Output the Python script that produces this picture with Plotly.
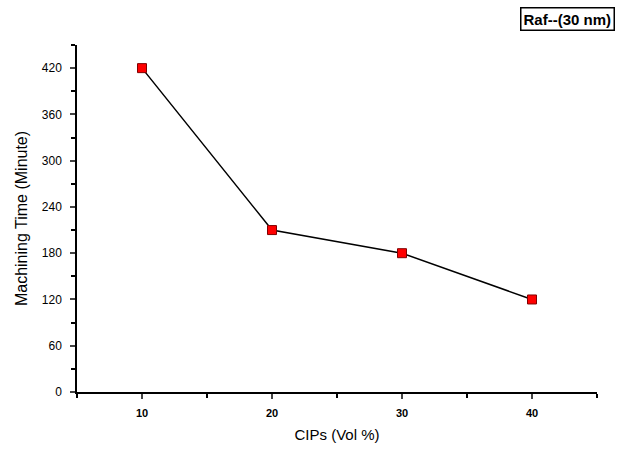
import plotly.graph_objects as go

cips = [10, 20, 30, 40]
machining_time = [420, 210, 180, 120]
x_ticks = [10, 20, 30, 40]
y_ticks = [0, 60, 120, 180, 240, 300, 360, 420]

fig = go.Figure()
fig.add_trace(go.Scatter(
    x=cips, y=machining_time, mode="lines+markers",
    line=dict(color="black", width=1.5),
    marker=dict(symbol="square", size=9, color="#ff0000",
                line=dict(color="#800000", width=1)),
    showlegend=False,
))

font = "Liberation Sans, Arial, sans-serif"
fig.update_layout(
    width=623, height=453,
    margin=dict(l=77, r=26, t=45, b=55),
    plot_bgcolor="white", paper_bgcolor="white",
    font=dict(family=font, color="black"),
    xaxis=dict(
        range=[5, 45], tickvals=x_ticks, ticks="outside", ticklen=5, tickwidth=1.5,
        showline=True, linecolor="black", linewidth=1.5, showgrid=False, zeroline=False,
        tickfont=dict(size=11, family=font, weight="bold"), ticklabelstandoff=5,
        minor=dict(dtick=5, tick0=5, ticks="outside", ticklen=4, tickwidth=1.5, tickcolor="black"),
        title=dict(text="CIPs (Vol %)", font=dict(size=15, family=font), standoff=12),
    ),
    yaxis=dict(
        range=[0, 450], tickvals=y_ticks, ticks="outside", ticklen=5, tickwidth=1.5,
        showline=True, linecolor="black", linewidth=1.5, showgrid=False, zeroline=False,
        tickfont=dict(size=12, family=font), ticklabelstandoff=6,
        minor=dict(dtick=30, tick0=0, ticks="outside", ticklen=4, tickwidth=1.5, tickcolor="black"),
        title=dict(text="Machining Time (Minute)", font=dict(size=16, family=font), standoff=10),
    ),
)

fig.add_annotation(
    text="Raf--(30 nm)", xref="paper", yref="paper", x=1.035, y=1.04,
    xanchor="right", yanchor="bottom", showarrow=False,
    font=dict(size=15, family=font, color="black", weight="bold"),
    bordercolor="black", borderwidth=1.5, borderpad=2, bgcolor="white",
)

fig.write_html("out.html")
